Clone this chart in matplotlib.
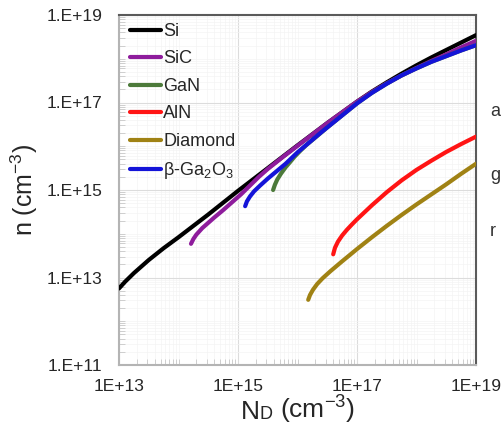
import matplotlib as mpl
mpl.use('Agg')
from matplotlib import pyplot as plt
from matplotlib import ticker
import numpy as np

# dpi for figure
my_dpi = 100

plt.rcParams['font.family'] = ['Liberation Sans', 'DejaVu Sans']
plt.rcParams['mathtext.default'] = 'regular'

# values as log10 of the concentration (cm^-3)
# x = donor concentration N_D, y = electron concentration n
si_x  = [13.0, 13.1, 13.25, 13.5, 13.75, 14.0, 14.5, 15.0, 15.5, 16.0, 16.5, 17.0, 17.25, 17.5, 17.75, 18.0, 18.25, 18.5, 18.75, 19.0]
si_y  = [12.75, 12.9, 13.1, 13.4, 13.67, 13.92, 14.44, 14.98, 15.5, 16.02, 16.53, 17.02, 17.25, 17.46, 17.66, 17.85, 18.03, 18.2, 18.37, 18.54]

sic_x = [14.21, 14.25, 14.3, 14.4, 14.5, 14.6, 14.75, 14.9, 15.05, 15.2, 15.35, 15.5, 15.75, 16.0, 16.5, 17.0, 17.25, 17.5, 17.75, 18.0, 18.25, 18.5, 18.75, 19.0]
sic_y = [13.77, 13.88, 13.98, 14.13, 14.25, 14.37, 14.54, 14.72, 14.9, 15.1, 15.3, 15.48, 15.75, 16.01, 16.53, 17.02, 17.24, 17.44, 17.62, 17.79, 17.95, 18.1, 18.26, 18.41]

gan_x = [15.59, 15.62, 15.66, 15.72, 15.8, 15.87, 15.95, 16.05, 16.15, 16.3, 16.5, 17.0, 17.25, 17.5, 17.75, 18.0, 18.25, 18.5, 18.75, 19.0]
gan_y = [15.0, 15.12, 15.24, 15.37, 15.52, 15.63, 15.76, 15.9, 16.03, 16.2, 16.43, 16.98, 17.22, 17.43, 17.62, 17.78, 17.93, 18.06, 18.19, 18.31]

aln_x = [16.6, 16.63, 16.68, 16.75, 16.83, 16.92, 17.0, 17.25, 17.5, 17.75, 18.0, 18.25, 18.5, 18.75, 19.0]
aln_y = [13.53, 13.68, 13.82, 13.96, 14.09, 14.22, 14.33, 14.65, 14.95, 15.22, 15.46, 15.67, 15.87, 16.05, 16.22]

dia_x = [16.18, 16.21, 16.26, 16.33, 16.42, 16.55, 16.75, 17.0, 17.25, 17.5, 17.75, 18.0, 18.25, 18.5, 18.75, 19.0]
dia_y = [12.49, 12.6, 12.72, 12.85, 12.98, 13.14, 13.37, 13.65, 13.92, 14.18, 14.43, 14.67, 14.9, 15.13, 15.37, 15.6]

gao_x = [15.12, 15.15, 15.2, 15.27, 15.37, 15.5, 15.65, 15.8, 16.0, 16.2, 16.4, 16.6, 16.8, 17.0, 17.25, 17.5, 17.75, 18.0, 18.25, 18.5, 18.75, 19.0]
gao_y = [14.63, 14.74, 14.85, 14.97, 15.1, 15.26, 15.43, 15.6, 15.86, 16.09, 16.32, 16.54, 16.76, 16.98, 17.22, 17.43, 17.62, 17.78, 17.93, 18.06, 18.19, 18.31]

names = ['Si', 'SiC', 'GaN', 'AlN', 'Diamond', r'β-Ga$_\mathregular{2}$O$_\mathregular{3}$']
colo = ['black', '#8e1c9c', '#4c7a3a', '#ff1414', '#a08214', '#1414d8']

# axis ticks
xticks = [1e13, 1e15, 1e17, 1e19]
xlabels = ['1E+13', '1E+15', '1E+17', '1E+19']
yticks = [1e11, 1e13, 1e15, 1e17, 1e19]
ylabels = ['1.E+11', '1.E+13', '1.E+15', '1.E+17', '1.E+19']

###############################################################################

fig = plt.figure(figsize=(502/my_dpi, 433/my_dpi), dpi=my_dpi)
ax = fig.add_axes([119/502, 1-365/433, 357/502, 350/433])

data = [(si_x, si_y), (sic_x, sic_y), (gan_x, gan_y), (aln_x, aln_y), (dia_x, dia_y), (gao_x, gao_y)]
for i in range(len(data)):
  nd = 10.0**np.array(data[i][0])
  n = 10.0**np.array(data[i][1])
  ax.loglog(nd, n, color=colo[i], linewidth=3, solid_capstyle='round',
            solid_joinstyle='round', label=names[i], zorder=3)

ax.set_xlim(1e13, 1e19)
ax.set_ylim(1e11, 1e19)

ax.xaxis.set_major_locator(ticker.FixedLocator(xticks))
ax.xaxis.set_major_formatter(ticker.FixedFormatter(xlabels))
ax.yaxis.set_major_locator(ticker.FixedLocator(yticks))
ax.yaxis.set_major_formatter(ticker.FixedFormatter(ylabels))
ax.xaxis.set_minor_locator(ticker.LogLocator(base=10, subs=np.arange(1, 10), numticks=100))
ax.yaxis.set_minor_locator(ticker.LogLocator(base=10, subs=np.arange(1, 10), numticks=100))
ax.xaxis.set_minor_formatter(ticker.NullFormatter())
ax.yaxis.set_minor_formatter(ticker.NullFormatter())

ax.tick_params(which='major', length=0, labelsize=12.5, labelcolor='#262626')
ax.tick_params(axis='x', which='major', pad=10)
ax.tick_params(axis='y', which='major', pad=12)
ax.tick_params(which='minor', direction='in', length=4, width=0.6, color='#c8c8c8')

ax.grid(which='major', color='#dcdcdc', linewidth=0.8)
ax.grid(which='minor', color='#f4f4f4', linewidth=0.5)
ax.set_axisbelow(True)

for s in ['left', 'bottom']:
  ax.spines[s].set_color('#b4b4b4')
  ax.spines[s].set_linewidth(1.5)
for s in ['top', 'right']:
  ax.spines[s].set_color('#5a5a5a')
  ax.spines[s].set_linewidth(1.5)

ax.set_ylabel(r'n (cm$^\mathregular{-3}$)', fontsize=18, color='#262626', labelpad=5)

leg = ax.legend(loc='upper left', bbox_to_anchor=(11/357, 1-8/350), frameon=False, fontsize=13,
                borderpad=0, borderaxespad=0, handlelength=1.7, handletextpad=0.15, labelspacing=0.58)
for t in leg.get_texts():
  t.set_color('#262626')

# x label with small "D" sitting on the baseline
fig.canvas.draw()
r = fig.canvas.get_renderer()
parts = [('N', 19), ('D', 13), ('(cm$^\mathregular{-3}$)', 19)]
gaps = [0, 0, 7]
texts = []
widths = []
for p in parts:
  t = fig.text(0, 14/433, p[0], fontsize=p[1], va='baseline', ha='left', color='#262626')
  widths.append(t.get_window_extent(r).width)
  texts.append(t)
total = sum(widths) + sum(gaps)
x0 = 298 - total/2
for i in range(len(texts)):
  x0 += gaps[i]
  texts[i].set_x(x0/502)
  x0 += widths[i]

# text fragments from the neighbouring panel at the right edge
fig.text(490/502, 1-112/433, 'a', fontsize=13, color='#333333', va='center', ha='left')
fig.text(490/502, 1-176/433, 'g', fontsize=13, color='#333333', va='center', ha='left')
fig.text(490/502, 1-232/433, 'r', fontsize=13, color='#333333', va='center', ha='left')

plt.savefig('out.png', dpi=my_dpi)
